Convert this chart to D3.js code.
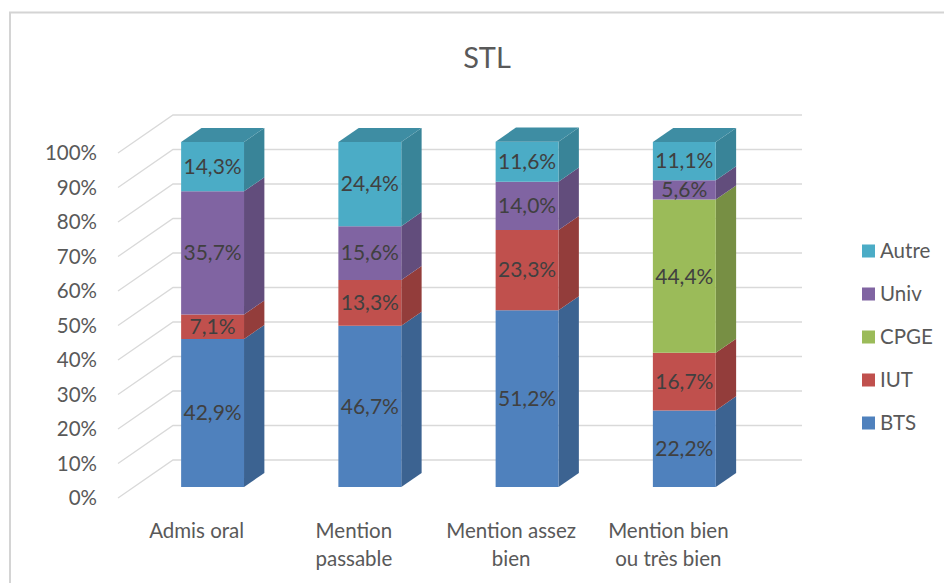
<!DOCTYPE html>
<html><head><meta charset="utf-8">
<script src="https://cdn.jsdelivr.net/npm/d3@7"></script>
<style>body{margin:0;background:#fff}svg{display:block}text{font-family:Lato,"Open Sans",sans-serif}</style>
</head><body><svg id="c" width="944" height="583"></svg>
<script>
const categories = [["Admis oral"],["Mention","passable"],["Mention assez","bien"],["Mention bien","ou très bien"]];
const seriesNames = ["BTS","IUT","CPGE","Univ","Autre"];
const BTS   = [42.9, 46.7, 51.2, 22.2];
const IUT   = [7.1, 13.3, 23.3, 16.7];
const CPGE  = [0, 0, 0, 44.4];
const Univ  = [35.7, 15.6, 14.0, 5.6];
const Autre = [14.3, 24.4, 11.6, 11.1];
const yTicks = [0,10,20,30,40,50,60,70,80,90,100];
const colors = {BTS:"#4f81bd", IUT:"#c0504d", CPGE:"#9bbb59", Univ:"#8064a2", Autre:"#4bacc6"};

const values = {BTS, IUT, CPGE, Univ, Autre};
const svg = d3.select("#c");
const fmt = v => v.toFixed(1).replace(".", ",") + "%";

// frame
svg.append("path").attr("d","M10,1000 V12.5 H1000").attr("fill","none").attr("stroke","#d4d4d4").attr("stroke-width",2);

const x = d3.scaleBand().domain(d3.range(4)).range([118,747]).paddingInner(0.6).paddingOuter(0.3);
const y = d3.scaleLinear().domain([0,100]).range([498,153]);
const DX = 55, DY = -38;
const P = (px, v, z) => [px + DX*z, y(v) + DY*z];
const zF = 0.29, zB = 0.66;

// gridlines
const g = svg.append("g");
yTicks.forEach(t => {
  const a = P(118, t, 0), b = P(118, t, 1), c = P(747, t, 1);
  g.append("path").attr("d", `M${a}L${b}L${c}`).attr("fill","none").attr("stroke","#d9d9d9").attr("stroke-width",1.3);
  g.append("text").attr("x",97).attr("y",a[1]).attr("dy","0.35em").attr("text-anchor","end")
    .attr("font-size",20.5).attr("fill","#595959").text(t + "%");
});

// stacks
const stack = d3.stack().keys(seriesNames)(d3.range(4).map(i => {
  const o = {}; seriesNames.forEach(s => o[s] = values[s][i]); return o;
}));
const bars = svg.append("g");
d3.range(4).forEach(i => {
  const x0 = x(i), x1 = x(i) + x.bandwidth();
  const segs = stack.map(s => ({key: s.key, lo: s[i][0], hi: s[i][1]})).filter(d => d.hi - d.lo > 0);
  segs.forEach((d, k) => {
    const c = d3.color(colors[d.key]);
    const side = [P(x1,d.lo,zF),P(x1,d.lo,zB),P(x1,d.hi,zB),P(x1,d.hi,zF)];
    bars.append("path").attr("d","M"+side.join("L")+"Z").attr("fill", c.darker(0.75));
    const front = [P(x0,d.lo,zF),P(x1,d.lo,zF),P(x1,d.hi,zF),P(x0,d.hi,zF)];
    bars.append("path").attr("d","M"+front.join("L")+"Z").attr("fill", c);
    if (k === segs.length - 1) {
      const top = [P(x0,d.hi,zF),P(x1,d.hi,zF),P(x1,d.hi,zB),P(x0,d.hi,zB)];
      bars.append("path").attr("d","M"+top.join("L")+"Z").attr("fill", c.darker(0.55));
    }
    const cy = P(0,(d.lo+d.hi)/2,zF)[1];
    bars.append("text").attr("x", (x0+x1)/2 + DX*zF).attr("y", cy).attr("dy","0.35em")
      .attr("text-anchor","middle").attr("font-size",21).attr("fill","#404040").text(fmt(d.hi-d.lo));
  });
  const t = svg.append("text").attr("text-anchor","middle").attr("font-size",20.5).attr("fill","#595959");
  categories[i].forEach((ln, j) => t.append("tspan").attr("x",(x0+x1)/2).attr("y",531 + j*28).attr("dy","0.35em").text(ln));
});

// title
svg.append("text").attr("x",487).attr("y",58).attr("dy","0.35em").attr("text-anchor","middle")
  .attr("font-size",29).attr("fill","#595959").text("STL");

// legend
const legOrder = ["Autre","Univ","CPGE","IUT","BTS"];
legOrder.forEach((s, j) => {
  const ly = 251 + j*43;
  svg.append("rect").attr("x",862).attr("y",ly-6.5).attr("width",13).attr("height",13).attr("fill",colors[s]);
  svg.append("text").attr("x",880).attr("y",ly).attr("dy","0.35em").attr("font-size",20.5).attr("fill","#595959").text(s);
});
</script></body></html>
